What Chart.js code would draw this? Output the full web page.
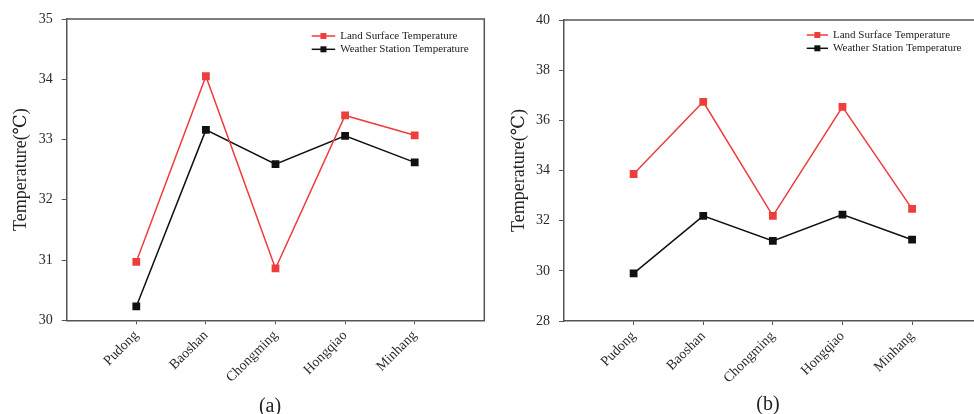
<!DOCTYPE html>
<html><head><meta charset="utf-8">
<script src="https://cdn.jsdelivr.net/npm/chart.js@4/dist/chart.umd.min.js"></script>
<style>
html,body{margin:0;padding:0;background:#fff;overflow:hidden;width:974px;height:414px;}
.wrap{position:absolute;top:0;}
.cap{position:absolute;font-family:"Liberation Serif",serif;font-size:20px;color:#222;transform:translate(-50%,-50%);white-space:nowrap;}
</style></head><body>
<div class="wrap" style="left:0;width:490px;height:414px"><canvas id="ca"></canvas></div>
<div class="wrap" style="left:490px;width:500px;height:414px"><canvas id="cb"></canvas></div>
<div class="cap" style="left:270px;top:405px">(a)</div>
<div class="cap" style="left:768px;top:403px">(b)</div>
<script>
const categories = ['Pudong', 'Baoshan', 'Chongming', 'Hongqiao', 'Minhang'];
const seriesNames = ['Land Surface Temperature', 'Weather Station Temperature'];
const lstA = [30.97, 34.05, 30.86, 33.40, 33.07];
const wstA = [30.23, 33.16, 32.59, 33.06, 32.62];
const lstB = [33.86, 36.74, 32.19, 36.54, 32.47];
const wstB = [29.90, 32.19, 31.19, 32.24, 31.24];
const yTicksA = [30, 31, 32, 33, 34, 35];
const yTicksB = [28, 30, 32, 34, 36, 38, 40];
const yTitle = 'Temperature(℃)';

const RED = '#ee3d3d';
const BLACK = '#111111';
const AXIS = '#555555';
const SERIF = '"Liberation Serif", "DejaVu Serif", serif';

const boxBorder = {
  id: 'boxBorder',
  afterDraw(chart) {
    const {ctx, chartArea: a} = chart;
    ctx.save();
    ctx.strokeStyle = AXIS;
    ctx.lineWidth = 1.5;
    ctx.beginPath();
    ctx.moveTo(a.left, a.top);
    ctx.lineTo(a.right, a.top);
    ctx.lineTo(a.right, a.bottom);
    ctx.stroke();
    ctx.restore();
  }
};

const legendBox = {
  id: 'legendBox',
  afterDraw(chart, args, o) {
    const {ctx, chartArea: a} = chart;
    const x0 = a.left + o.dx;
    chart.data.datasets.forEach((ds, i) => {
      const y = a.top + o.dy + i * o.rowH;
      ctx.save();
      ctx.strokeStyle = ds.borderColor;
      ctx.lineWidth = 1.5;
      ctx.beginPath();
      ctx.moveTo(x0, y);
      ctx.lineTo(x0 + o.lineW, y);
      ctx.stroke();
      ctx.fillStyle = ds.borderColor;
      ctx.fillRect(x0 + o.lineW / 2 - 3, y - 3, 6, 6);
      ctx.fillStyle = '#222';
      ctx.font = '11px ' + SERIF;
      ctx.textBaseline = 'middle';
      ctx.textAlign = 'left';
      ctx.fillText(ds.label, x0 + o.lineW + 5, y);
      ctx.restore();
    });
  }
};

function makeChart(id, lst, wst, yTicks, g) {
  const toPts = arr => arr.map((v, i) => ({x: i + 1, y: v}));
  const ds = (label, arr, color) => ({
    label, data: toPts(arr), borderColor: color, backgroundColor: color,
    borderWidth: 1.5, pointStyle: 'rect', pointRadius: 5.5, pointBorderWidth: 0,
    pointBackgroundColor: color, tension: 0
  });
  return new Chart(document.getElementById(id), {
    type: 'line',
    data: { datasets: [ds(seriesNames[0], lst, RED), ds(seriesNames[1], wst, BLACK)] },
    plugins: [boxBorder, legendBox],
    options: {
      responsive: true, maintainAspectRatio: false, animation: false,
      layout: { padding: { left: 0, top: g.top, right: g.right, bottom: 0 } },
      plugins: {
        legend: { display: false }, tooltip: { enabled: false },
        legendBox: g.legend
      },
      scales: {
        x: {
          type: 'linear', min: 0, max: categories.length + 1,
          afterBuildTicks: s => { s.ticks = categories.map((c, i) => ({ value: i + 1 })); },
          afterFit: s => { s.height = g.xH; },
          ticks: {
            callback: v => categories[v - 1] ?? '',
            minRotation: 45, maxRotation: 45, autoSkip: false,
            color: '#2a2a2a', font: { family: SERIF, size: 14 }, padding: 3
          },
          grid: { drawOnChartArea: false, drawTicks: true, tickLength: 4, tickColor: AXIS, tickWidth: 1 },
          border: { display: true, color: AXIS, width: 1.5 }
        },
        y: {
          min: yTicks[0], max: yTicks[yTicks.length - 1],
          afterBuildTicks: s => { s.ticks = yTicks.map(v => ({ value: v })); },
          afterFit: s => { s.width = g.yW; },
          ticks: { color: '#2a2a2a', font: { family: SERIF, size: 14 }, padding: 9 },
          grid: { drawOnChartArea: false, drawTicks: true, tickLength: 5, tickColor: AXIS, tickWidth: 1 },
          border: { display: true, color: AXIS, width: 1.5 },
          title: { display: true, text: yTitle, color: '#222', font: { family: SERIF, size: 18 }, padding: { top: g.tp, bottom: 0 } }
        }
      }
    }
  });
}

makeChart('ca', lstA, wstA, yTicksA, { top: 19, right: 5.7, xH: 93.7, yW: 66.7, tp: 10,
  legend: { dx: 245, dy: 17, rowH: 13.3, lineW: 23.5 } });
makeChart('cb', lstB, wstB, yTicksB, { top: 20, right: 8.3, xH: 93, yW: 74, tp: 18,
  legend: { dx: 242.7, dy: 15, rowH: 13.3, lineW: 21.3 } });
</script>
</body></html>
